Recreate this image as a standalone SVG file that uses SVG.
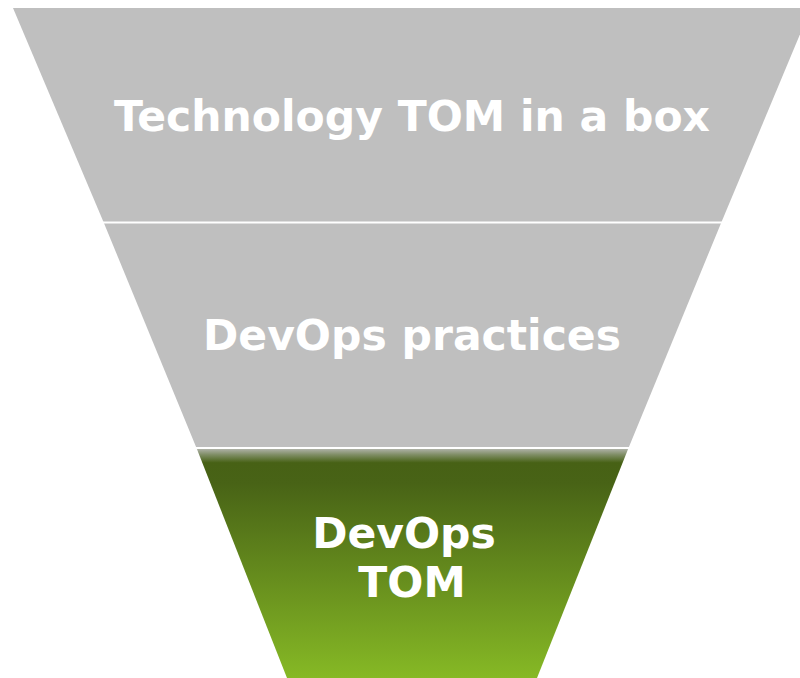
<svg xmlns="http://www.w3.org/2000/svg" width="800" height="678" viewBox="0 0 800 678">
<defs>
<linearGradient id="g" x1="0" y1="449" x2="0" y2="678" gradientUnits="userSpaceOnUse">
<stop offset="0" stop-color="#aeb1a6"/>
<stop offset="0.025" stop-color="#7f8d65"/>
<stop offset="0.06" stop-color="#476115"/>
<stop offset="0.15" stop-color="#486316"/>
<stop offset="1" stop-color="#86b925"/>
</linearGradient>
<style>
.t{font-family:"DejaVu Sans",Verdana,sans-serif;font-weight:bold;font-size:42.5px;fill:#ffffff;text-anchor:middle}
.sep{stroke:#ffffff;stroke-width:2}
</style>
</defs>
<rect width="800" height="678" fill="#ffffff"/>
<g id="top">
<polygon points="13,8 811,8 721.5,222 103.5,222" fill="#bfbfbf"/>
<text class="t" x="412" y="131">Technology TOM in a box</text>
</g>
<g id="middle">
<polygon points="103.5,222 721.5,222 628.5,448 196.5,448" fill="#bfbfbf"/>
<text class="t" x="412" y="350">DevOps practices</text>
</g>
<g id="bottom">
<polygon points="196.5,448 628.5,448 537,678 287,678" fill="url(#g)"/>
<text class="t" x="404" y="548">DevOps</text>
<text class="t" x="412" y="597">TOM</text>
</g>
<g id="connectors">
<line class="sep" x1="100" y1="222.5" x2="725" y2="222.5"/>
<line class="sep" x1="190" y1="448" x2="635" y2="448"/>
</g>
</svg>
